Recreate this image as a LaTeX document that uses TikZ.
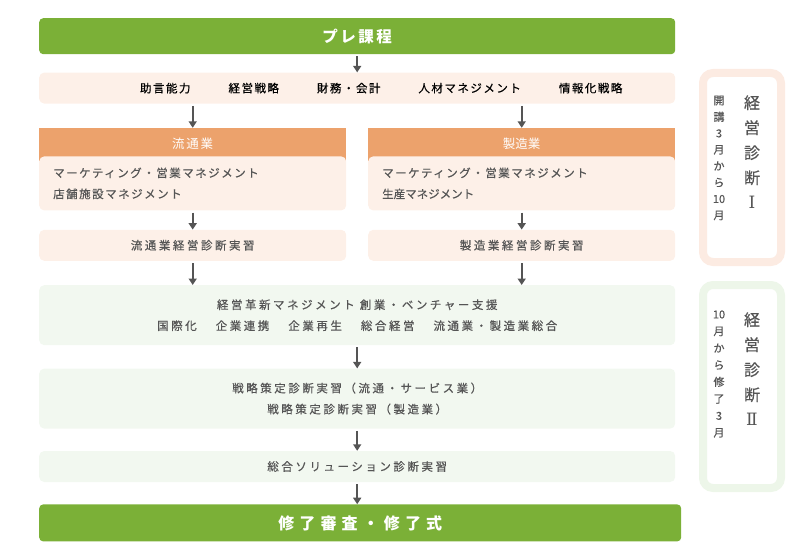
\documentclass[tikz,border=0pt]{standalone}
\usepackage{fontspec}
\setmainfont{Noto Sans CJK JP}
\newfontfamily\numeral{DejaVu Serif}
\usetikzlibrary{positioning,arrows.meta}

\definecolor{barGreen}{RGB}{123,176,55}
\definecolor{headOrange}{RGB}{236,162,108}
\definecolor{softPink}{RGB}{253,240,232}
\definecolor{softGreen}{RGB}{242,248,240}
\definecolor{framePink}{RGB}{252,235,226}
\definecolor{frameGreen}{RGB}{237,246,233}
\definecolor{inkGray}{RGB}{85,85,85}

\newcommand{\tight}{\addfontfeatures{LetterSpace=13,FakeBold=0.5}}
\newcommand{\wide}{\addfontfeatures{LetterSpace=22,FakeBold=0.5}}

\begin{document}
\begin{tikzpicture} [
        x=1pt, y=-1pt,
        font=\fontsize{11.5}{21}\selectfont\tight,
        barnode/.style={
            rectangle,
            rounded corners=4pt,
            fill=barGreen,
            text=white,
            inner sep=0pt,
            minimum height=36pt,
            font=\fontsize{15.5}{15}\selectfont\bfseries\addfontfeatures{LetterSpace=16}
        },
        rownode/.style={
            rectangle,
            rounded corners=5pt,
            inner sep=0pt,
            text=inkGray,
            minimum width=636pt
        },
        headnode/.style={
            rectangle,
            fill=headOrange,
            text=white,
            inner sep=0pt,
            minimum width=307pt,
            minimum height=33pt,
            font=\fontsize{12.5}{12}\selectfont\addfontfeatures{LetterSpace=14}
        },
        halfnode/.style={
            rectangle,
            rounded corners=5pt,
            fill=softPink,
            text=inkGray,
            inner ysep=0pt,
            minimum width=307pt
        },
        framenode/.style={
            rectangle,
            rounded corners=10pt,
            line width=8pt,
            fill=white,
            inner sep=0pt,
            minimum width=78pt
        },
        flow/.style={
            draw=inkGray,
            line width=1.6pt,
            shorten <=2pt,
            -{Triangle[width=8pt,length=6.5pt]}
        }
    ]

        \useasboundingbox (0,0) rectangle (797,548);

        % left column of the flow
        \node[barnode, minimum width=636pt, anchor=north west] (pre) at (39,18)            {プレ課程};
        \node[rownode, fill=softPink, minimum height=31pt] (subj) [below=18pt of pre]      {};
        \node (subjtext) at ([xshift=24pt]subj.center) {助言能力\hspace{38pt}経営戦略\hspace{38pt}財務・会計\hspace{38pt}人材マネジメント\hspace{38pt}情報化戦略};

        \node[headnode] (lhead) [below right=24pt and 0pt of subj.south west] {\raisebox{2.5pt}{流通業}};
        \node[headnode, font=\fontsize{12.5}{12}\selectfont] (rhead) [below left=24pt and 0pt of subj.south east]  {\raisebox{2.5pt}{製造業}};
        \node[halfnode, minimum height=54pt, text width=279pt, align=left] (lbody) [below=-5pt of lhead]
            {マーケティング・営業マネジメント\\店舗施設マネジメント};
        \node[halfnode, minimum height=54pt, text width=279pt, align=left] (rbody) [below=-5pt of rhead]
            {マーケティング・営業マネジメント\\{\addfontfeatures{LetterSpace=0}生産マネジメント}};
        \node[halfnode, minimum height=31pt, font=\fontsize{11.5}{21}\selectfont\wide] (lprac) [below=19pt of lbody] {流通業経営診断実習};
        \node[halfnode, minimum height=31pt, font=\fontsize{11.5}{21}\selectfont\wide] (rprac) [below=19pt of rbody] {製造業経営診断実習};

        \node[rownode, fill=softGreen, minimum height=60pt, align=center, font=\fontsize{11.5}{21}\selectfont\wide] (ext)
            [below right=24pt and 0pt of lprac.south west]
            {経営革新マネジメント 創業・ベンチャー支援\\国際化\hspace{19pt}企業連携\hspace{19pt}企業再生\hspace{19pt}総合経営\hspace{19pt}流通業・製造業総合};
        \node[rownode, fill=softGreen, minimum height=60pt, align=center, font=\fontsize{11.5}{21}\selectfont\wide] (strat) [below=23pt of ext]
            {戦略策定診断実習（流通・サービス業）\\戦略策定診断実習（製造業）};
        \node[rownode, fill=softGreen, minimum height=31pt, font=\fontsize{11.5}{21}\selectfont\wide] (sol) [below=22pt of strat] {総合ソリューション診断実習};
        \node[barnode, minimum width=642pt, minimum height=37pt, font=\fontsize{16}{16}\selectfont\bfseries\addfontfeatures{LetterSpace=32}] (fin)
            [below right=22pt and 0pt of sol.south west] {修了審査・修了式};

        % the two stages on the right
        \node[framenode, draw=framePink, minimum height=189pt, anchor=north west]  (stageA) at (699,69)  {};
        \node[framenode, draw=frameGreen, minimum height=203pt, anchor=north west] (stageB) at (699,281) {};

        \node[text=inkGray, align=center, font=\fontsize{16}{25}\selectfont\addfontfeatures{FakeBold=0.5}] (nameA) at (752,152)
            {経\\営\\診\\断\\{\numeral\fontsize{17}{17}\selectfont Ⅰ}};
        \node[text=inkGray, align=center, font=\fontsize{11}{16.4}\selectfont\addfontfeatures{FakeBold=0.5}] (termA) at (719,158)
            {開\\講\\3\\月\\か\\ら\\10\\月};
        \node[text=inkGray, align=center, font=\fontsize{16}{25}\selectfont\addfontfeatures{FakeBold=0.5}] (nameB) at (752,369)
            {経\\営\\診\\断\\{\numeral\fontsize{17}{17}\selectfont Ⅱ}};
        \node[text=inkGray, align=center, font=\fontsize{11}{16.9}\selectfont\addfontfeatures{FakeBold=0.5}] (termB) at (719,374)
            {10\\月\\か\\ら\\修\\了\\3\\月};

        % arrows
        \draw[flow] (pre) -- (subj);
        \draw[flow] (lhead.north |- subj.south) -- (lhead.north);
        \draw[flow] (rhead.north |- subj.south) -- (rhead.north);
        \draw[flow] (lbody) -- (lprac);
        \draw[flow] (rbody) -- (rprac);
        \draw[flow] (lprac.south) -- (lprac.south |- ext.north);
        \draw[flow] (rprac.south) -- (rprac.south |- ext.north);
        \draw[flow] (ext) -- (strat);
        \draw[flow] (strat) -- (sol);
        \draw[flow] (sol.south) -- (sol.south |- fin.north);

    \end{tikzpicture}
\end{document}
